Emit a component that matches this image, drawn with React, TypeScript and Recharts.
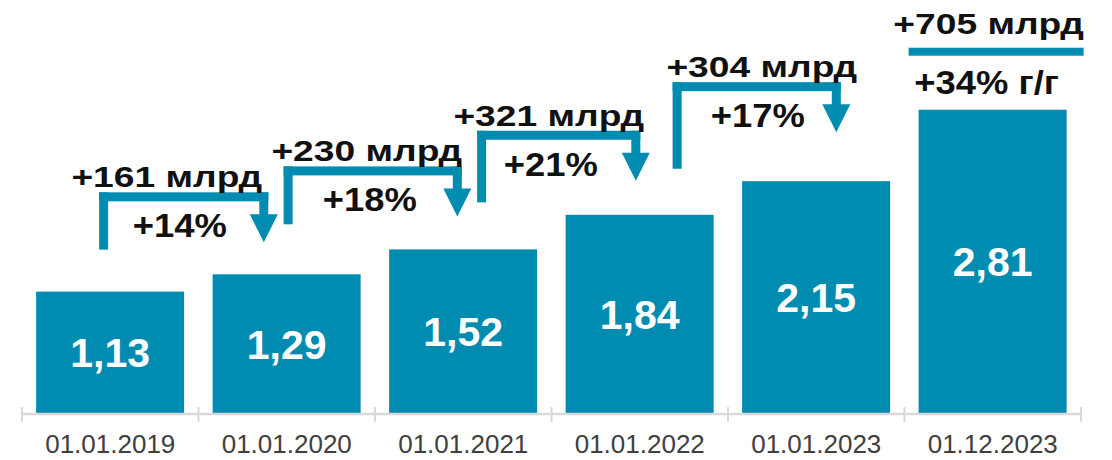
import React from "react";
import { Bar, BarChart, LabelList, XAxis, YAxis } from "recharts";

const categories = ["01.01.2019", "01.01.2020", "01.01.2021", "01.01.2022", "01.01.2023", "01.12.2023"];
const portfolio = [1.13, 1.29, 1.52, 1.84, 2.15, 2.81];
const growthAbs = ["+161 млрд", "+230 млрд", "+321 млрд", "+304 млрд", "+705 млрд"];
const growthPct = ["+14%", "+18%", "+21%", "+17%", "+34% г/г"];

const data = categories.map((date, i) => ({ date, value: portfolio[i] }));

const TEAL = "#008bb0";
const GRAY = "#d9d9d9";
const FONT = "Arial, 'Liberation Sans', sans-serif";
const GAP = 0.08; // barCategoryGap as a fraction of the band

// hand nudges (px) for the step arrows between consecutive Jan-1 bars
const ARROW_NUDGE = [
  { stem: -11, head: -27, top: 82, foot: 42, absDx: -17, pctDx: -4 },
  { stem: -3, head: -10, top: 83, foot: 50, absDx: -6, pctDx: -3 },
  { stem: 14, head: -8, top: 84, foot: 47, absDx: -10, pctDx: -8 },
  { stem: 33, head: 16, top: 99, foot: 46, absDx: 5, pctDx: 1 },
];

const fmt = (v: number) => v.toFixed(2).replace(".", ",");

function barIndex(props: any): number {
  const d = props.payload?.date ?? props.date;
  let i = categories.indexOf(d);
  if (i < 0) {
    const v = props.payload?.value ?? (Array.isArray(props.value) ? props.value[1] : props.value);
    i = portfolio.indexOf(v);
  }
  if (i < 0 && typeof props.index === "number") i = props.index;
  return i;
}

// the original annotations are set wide; abs amounts more so than percentages
function WideText({ x, y, big, children }: { x: number; y: number; big?: boolean; children: React.ReactNode }) {
  const size = big ? 34 : 30;
  const sx = big ? 1.07 : 1.24;
  return (
    <text
      transform={`translate(${x},${y}) scale(${sx},1)`}
      textAnchor="middle"
      fontFamily={FONT}
      fontWeight="bold"
      fontSize={size}
      fill="#111"
    >
      {children}
    </text>
  );
}

function Arrow({ sx, hx, top, foot }: { sx: number; hx: number; top: number; foot: number }) {
  const t = 9;
  const hc = hx + t / 2;
  return (
    <g fill={TEAL}>
      <rect x={sx} y={top} width={t} height={foot - top} />
      <rect x={sx} y={top} width={hx + t - sx} height={t} />
      <rect x={hx} y={top} width={t} height={23} />
      <polygon points={`${hc - 14},${top + 22} ${hc + 14},${top + 22} ${hc},${top + 50}`} />
    </g>
  );
}

function StepBar(props: any) {
  const { x, y, width, height } = props;
  const i = barIndex(props);
  const bar = <rect x={x} y={y} width={width} height={height} fill={TEAL} />;
  if (i < 0 || !height) return bar;

  const unit = height / portfolio[i];
  const base = y + height;
  const band = width / (1 - 2 * GAP);
  const cx = x + width / 2;
  const last = portfolio.length - 1;

  let extra: React.ReactNode = null;
  if (i < ARROW_NUDGE.length) {
    const n = ARROW_NUDGE[i];
    const dstTop = base - portfolio[i + 1] * unit;
    const dstCx = cx + band;
    const sx = cx + n.stem;
    const hx = dstCx + n.head;
    const top = dstTop - n.top;
    const foot = y - n.foot;
    const mid = (sx + hx + 9) / 2;
    extra = (
      <g>
        <Arrow sx={sx} hx={hx} top={top} foot={foot} />
        <WideText x={mid + n.absDx} y={top - 5}>{growthAbs[i]}</WideText>
        <WideText x={mid + n.pctDx} y={top + 45} big>{growthPct[i]}</WideText>
      </g>
    );
  } else if (i === last) {
    // year-to-date block over the last bar
    extra = (
      <g>
        <WideText x={cx - 4} y={y - 76}>{growthAbs[growthAbs.length - 1]}</WideText>
        <rect x={x - 10} y={y - 62} width={width + 27} height={8} fill={TEAL} />
        <WideText x={cx - 6} y={y - 16} big>{growthPct[growthPct.length - 1]}</WideText>
      </g>
    );
  }

  return (
    <g>
      {bar}
      {extra}
    </g>
  );
}

function DateTick(props: any) {
  const { x, y, payload, index } = props;
  const band = (1112 - 22 - 31) / categories.length;
  const axisY = y - 21;
  const left = x - band / 2;
  const right = x + band / 2;
  return (
    <g>
      <line x1={left} x2={left} y1={axisY - 7} y2={axisY + 8} stroke={GRAY} strokeWidth={2} />
      {index === categories.length - 1 && (
        <line x1={right} x2={right} y1={axisY - 7} y2={axisY + 8} stroke={GRAY} strokeWidth={2} />
      )}
      <text x={x} y={y} dy="0.71em" textAnchor="middle" fontFamily={FONT} fontSize={26} fill="#404040">
        {payload.value}
      </text>
    </g>
  );
}

export default function App() {
  return (
    <div style={{ position: "absolute", left: 0, top: 0, width: 1112, height: 460, background: "#fff" }}>
      <BarChart
        width={1112}
        height={460}
        data={data}
        margin={{ top: 35, right: 31, left: 22, bottom: 16 }}
        barCategoryGap={`${GAP * 100}%`}
      >
        <YAxis hide domain={[0, 3.5]} />
        <XAxis
          dataKey="date"
          interval={0}
          tickLine={false}
          tickSize={8}
          tickMargin={13}
          axisLine={{ stroke: GRAY, strokeWidth: 2.5 }}
          tick={<DateTick />}
        />
        <Bar dataKey="value" shape={<StepBar />} isAnimationActive={false}>
          <LabelList
            dataKey="value"
            position="center"
            formatter={(v: any) => fmt(Number(v))}
            fill="#fff"
            fontFamily={FONT}
            fontWeight="bold"
            fontSize={41}
          />
        </Bar>
      </BarChart>
    </div>
  );
}
